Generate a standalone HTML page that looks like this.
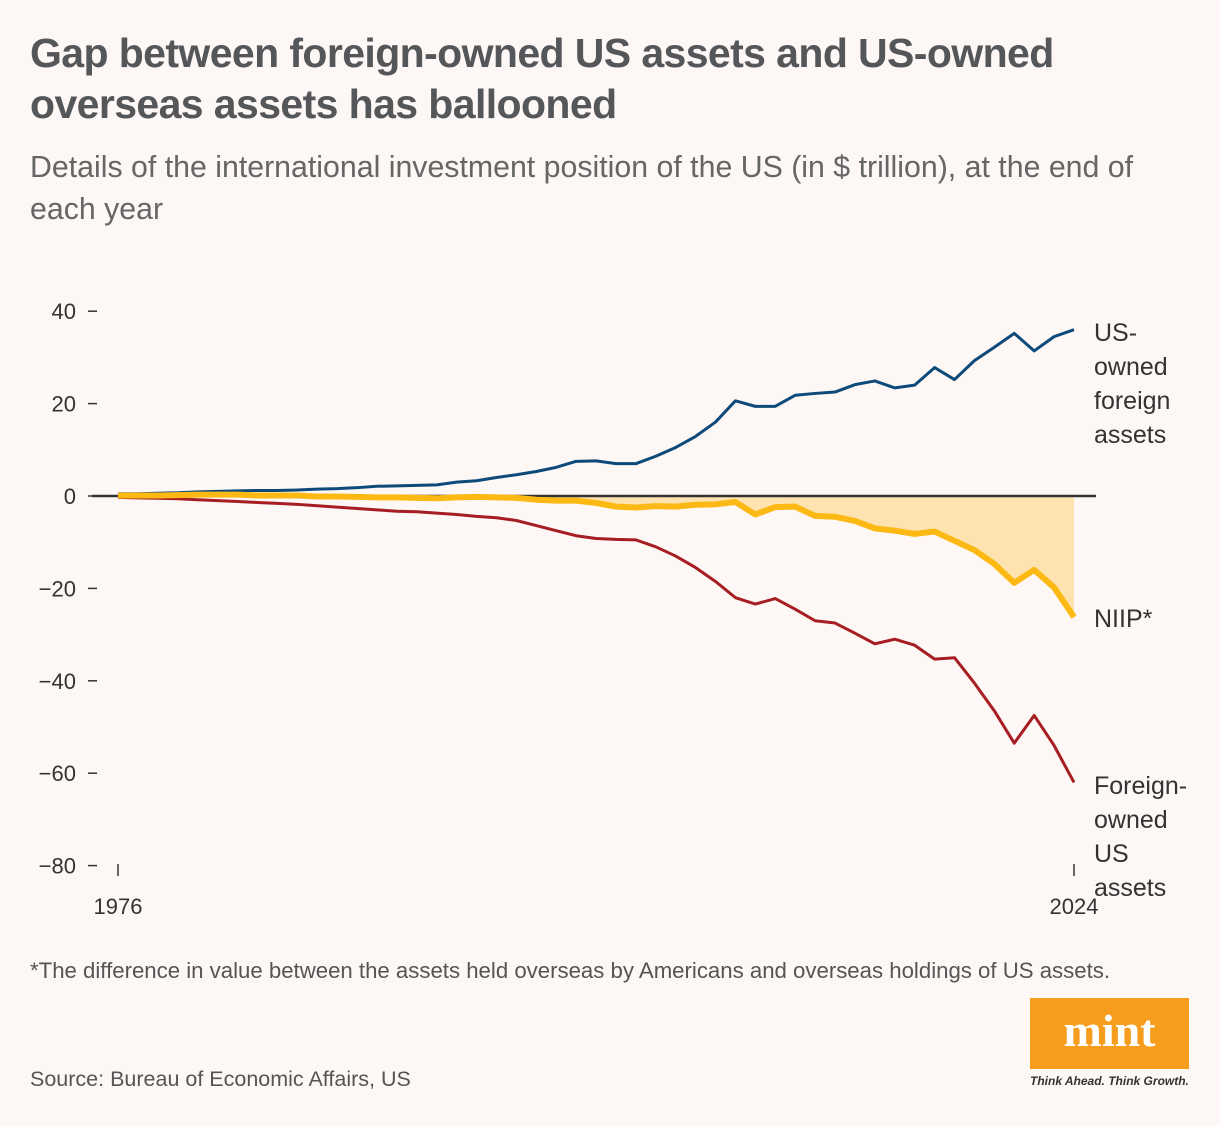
<!DOCTYPE html>
<html><head><meta charset="utf-8"><style>
body{margin:0;width:1220px;height:1126px;background:#fdf7f5;font-family:"Liberation Sans",sans-serif;overflow:hidden;position:relative}
.t{position:absolute;left:30px;top:28px;font-size:41px;font-weight:bold;color:#555659;line-height:51px;letter-spacing:-0.6px;white-space:nowrap}
.s{position:absolute;left:30px;top:147px;font-size:30.3px;color:#666;line-height:42px;white-space:nowrap}
.f{position:absolute;left:30px;top:958px;font-size:22.2px;color:#555}
.src{position:absolute;left:30px;top:1067px;font-size:21.5px;color:#555}
svg{position:absolute;left:0;top:0}
</style></head><body>
<div class="t">Gap between foreign-owned US assets and US-owned<br>overseas assets has ballooned</div>
<div class="s">Details of the international investment position of the US (in $ trillion), at the end of<br>each year</div>
<div class="f">*The difference in value between the assets held overseas by Americans and overseas holdings of US assets.</div>
<div class="src">Source: Bureau of Economic Affairs, US</div>
<div style="position:absolute;left:1030px;top:998px;width:159px;height:71px;background:#f79d1e;color:#fff;font-family:'Liberation Serif',serif;font-weight:bold;font-size:46px;text-align:center;line-height:66px">mint</div>
<div style="position:absolute;left:1030px;top:1074px;font-size:12px;font-style:italic;font-weight:bold;color:#333">Think Ahead. Think Growth.</div>
<svg id="c" width="1220" height="1126"></svg>
<script>
const years=[];for(let y=1976;y<=2024;y++)years.push(y);
const usOwned=[0.5,0.5,0.6,0.7,0.9,1.0,1.1,1.2,1.2,1.3,1.5,1.6,1.8,2.1,2.2,2.3,2.4,3.0,3.3,4.0,4.6,5.3,6.2,7.5,7.6,7.0,7.0,8.6,10.5,12.9,16.0,20.6,19.4,19.4,21.8,22.2,22.5,24.1,24.9,23.4,24.0,27.8,25.2,29.3,32.2,35.2,31.4,34.5,36.0];
const foreignOwned=[-0.3,-0.4,-0.5,-0.6,-0.8,-1.0,-1.2,-1.4,-1.6,-1.8,-2.1,-2.4,-2.7,-3.0,-3.3,-3.4,-3.7,-4.0,-4.4,-4.7,-5.3,-6.4,-7.5,-8.6,-9.2,-9.4,-9.5,-11.0,-13.0,-15.5,-18.5,-22.0,-23.4,-22.2,-24.5,-27.0,-27.5,-29.7,-32.0,-31.0,-32.3,-35.3,-35.0,-40.5,-46.5,-53.5,-47.5,-54.0,-62.0];
const niip=[0.1,0.1,0.1,0.2,0.3,0.3,0.3,0.1,0.1,0.1,-0.1,-0.1,-0.2,-0.3,-0.3,-0.4,-0.5,-0.3,-0.2,-0.3,-0.4,-0.8,-1.0,-1.0,-1.5,-2.3,-2.5,-2.2,-2.3,-1.9,-1.8,-1.3,-4.0,-2.4,-2.3,-4.3,-4.5,-5.4,-7.0,-7.5,-8.2,-7.7,-9.7,-11.7,-14.7,-18.8,-16.0,-19.8,-26.2];
const yTicks=[40,20,0,-20,-40,-60,-80];
const xTickYears=[1976,2024];
const X=y=>118+(y-1976)*(1074-118)/48;
const Y=v=>496-v*4.62;
const svg=document.getElementById('c');const NS='http://www.w3.org/2000/svg';
function mk(t,a){const e=document.createElementNS(NS,t);for(const k in a)e.setAttribute(k,a[k]);svg.appendChild(e);return e;}
yTicks.forEach(v=>{
 const l=mk('line',{x1:88,x2:97,y1:Y(v),y2:Y(v),stroke:'#333','stroke-width':1.5});
 
 
 const t=mk('text',{x:76,y:Y(v)+8,'text-anchor':'end','font-size':22,fill:'#333','font-family':'Liberation Sans'});
 t.textContent=(v<0?'\u2212'+(-v):v);
 
 
});
xTickYears.forEach(yr=>{
 const l=mk('line',{x1:X(yr),x2:X(yr),y1:864,y2:876,stroke:'#333','stroke-width':1.5});
 
 
 const t=mk('text',{x:X(yr),y:914,'text-anchor':'middle','font-size':22,fill:'#333','font-family':'Liberation Sans'});
 t.textContent=yr;
 
 
});
let area='M'+X(1976)+','+Y(0);
years.forEach((y,i)=>area+=' L'+X(y)+','+Y(niip[i]));
area+=' L'+X(2024)+','+Y(0)+'Z';
const a=mk('path',{d:area,fill:'#fee3b1'});


const zl=mk('line',{x1:92,x2:1096,y1:Y(0),y2:Y(0),stroke:'#333','stroke-width':2.5});


function line(arr,col,w,name){
 const p=mk('polyline',{points:years.map((y,i)=>X(y)+','+Y(arr[i])).join(' '),fill:'none',stroke:col,'stroke-width':w,'stroke-linejoin':'round'});
 
 
}
line(usOwned,'#0d4a7a',3,'us-owned-line');
line(foreignOwned,'#a61e22',3,'foreign-owned-line');
line(niip,'#fdb913',6,'niip-line');
function lab(lines,x,y,name){
 const t=mk('text',{x:x,y:y,'font-size':25,fill:'#333','font-family':'Liberation Sans'});
 
 
 lines.forEach((s,i)=>{const ts=document.createElementNS(NS,'tspan');ts.setAttribute('x',x);ts.setAttribute('dy',i?34:0);ts.textContent=s;t.appendChild(ts);});
}
lab(['US-','owned','foreign','assets'],1094,341,'us-owned-label');
lab(['NIIP*'],1094,627,'niip-label');
lab(['Foreign-','owned','US','assets'],1094,794,'foreign-owned-label');
</script>
</body></html>
